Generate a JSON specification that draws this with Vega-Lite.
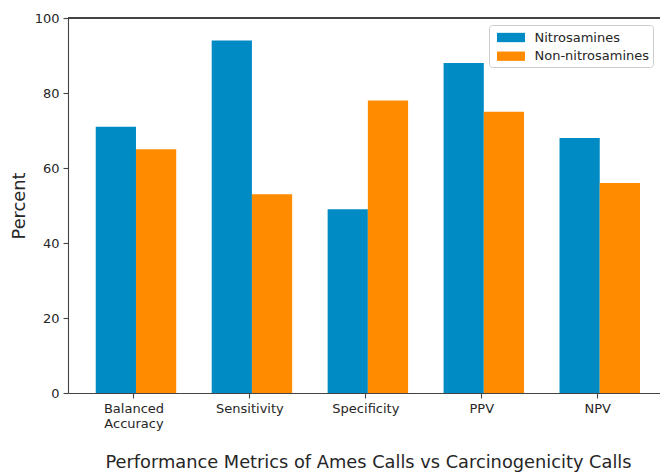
{
  "$schema": "https://vega.github.io/schema/vega-lite/v6.json",
  "autosize": {"type": "none"},
  "padding": {"left": 68, "top": 18, "right": 0, "bottom": 79},
  "width": 592,
  "height": 375,
  "background": "white",
  "config": {
    "font": "DejaVu Sans",
    "view": {"stroke": null},
    "axis": {
      "grid": false,
      "domainColor": "#444",
      "domainWidth": 1.1,
      "tickColor": "#444",
      "tickWidth": 1.1,
      "tickSize": 5,
      "labelFont": "DejaVu Sans",
      "labelFontSize": 13,
      "labelColor": "#262626",
      "titleFont": "DejaVu Sans",
      "titleFontSize": 17.8,
      "titleFontWeight": "normal",
      "titleColor": "#262626"
    }
  },
  "data": {
    "values": [
      {"metric": "Balanced Accuracy", "group": "Nitrosamines", "value": 71},
      {"metric": "Balanced Accuracy", "group": "Non-nitrosamines", "value": 65},
      {"metric": "Sensitivity", "group": "Nitrosamines", "value": 94},
      {"metric": "Sensitivity", "group": "Non-nitrosamines", "value": 53},
      {"metric": "Specificity", "group": "Nitrosamines", "value": 49},
      {"metric": "Specificity", "group": "Non-nitrosamines", "value": 78},
      {"metric": "PPV", "group": "Nitrosamines", "value": 88},
      {"metric": "PPV", "group": "Non-nitrosamines", "value": 75},
      {"metric": "NPV", "group": "Nitrosamines", "value": 68},
      {"metric": "NPV", "group": "Non-nitrosamines", "value": 56}
    ]
  },
  "layer": [
    {
      "mark": {"type": "bar"},
      "encoding": {
        "x": {
          "field": "metric",
          "type": "nominal",
          "sort": ["Balanced Accuracy", "Sensitivity", "Specificity", "PPV", "NPV"],
          "scale": {"paddingInner": 0.306, "paddingOuter": 0.206, "align": 0.581},
          "axis": {
            "title": "Performance Metrics of Ames Calls vs Carcinogenicity Calls",
            "labelAngle": 0,
            "labelPadding": 4,
            "labelLineHeight": 15,
            "tickOffset": -2.5,
            "labelExpr": "datum.label == 'Balanced Accuracy' ? ['Balanced', 'Accuracy'] : datum.label",
            "titlePadding": 23.5,
            "titleX": 300
          }
        },
        "xOffset": {
          "field": "group",
          "type": "nominal",
          "sort": ["Nitrosamines", "Non-nitrosamines"]
        },
        "y": {
          "field": "value",
          "type": "quantitative",
          "scale": {"domain": [0, 100], "nice": false},
          "axis": {
            "title": "Percent",
            "values": [0, 20, 40, 60, 80, 100],
            "labelPadding": 4,
            "titlePadding": 6
          }
        },
        "color": {
          "field": "group",
          "type": "nominal",
          "sort": ["Nitrosamines", "Non-nitrosamines"],
          "scale": {"domain": ["Nitrosamines", "Non-nitrosamines"], "range": ["#008bc5", "#ff8c00"]},
          "legend": {
            "title": null,
            "orient": "none",
            "legendX": 421,
            "legendY": 7,
            "padding": 3,
            "strokeColor": "#cccccc",
            "fillColor": "white",
            "cornerRadius": 3,
            "symbolType": "M-1.5,-0.5L1.5,-0.5L1.5,0.5L-1.5,0.5Z",
            "symbolSize": 348,
            "symbolStrokeWidth": 0,
            "symbolOpacity": 1,
            "symbolOffset": 9.5,
            "labelOffset": 14,
            "labelFontSize": 13,
            "labelFont": "DejaVu Sans",
            "labelColor": "#262626",
            "rowPadding": 1.7
          }
        }
      }
    },
    {
      "mark": {"type": "rule", "color": "#444", "strokeWidth": 1.1},
      "encoding": {"y": {"datum": 100}}
    }
  ]
}
